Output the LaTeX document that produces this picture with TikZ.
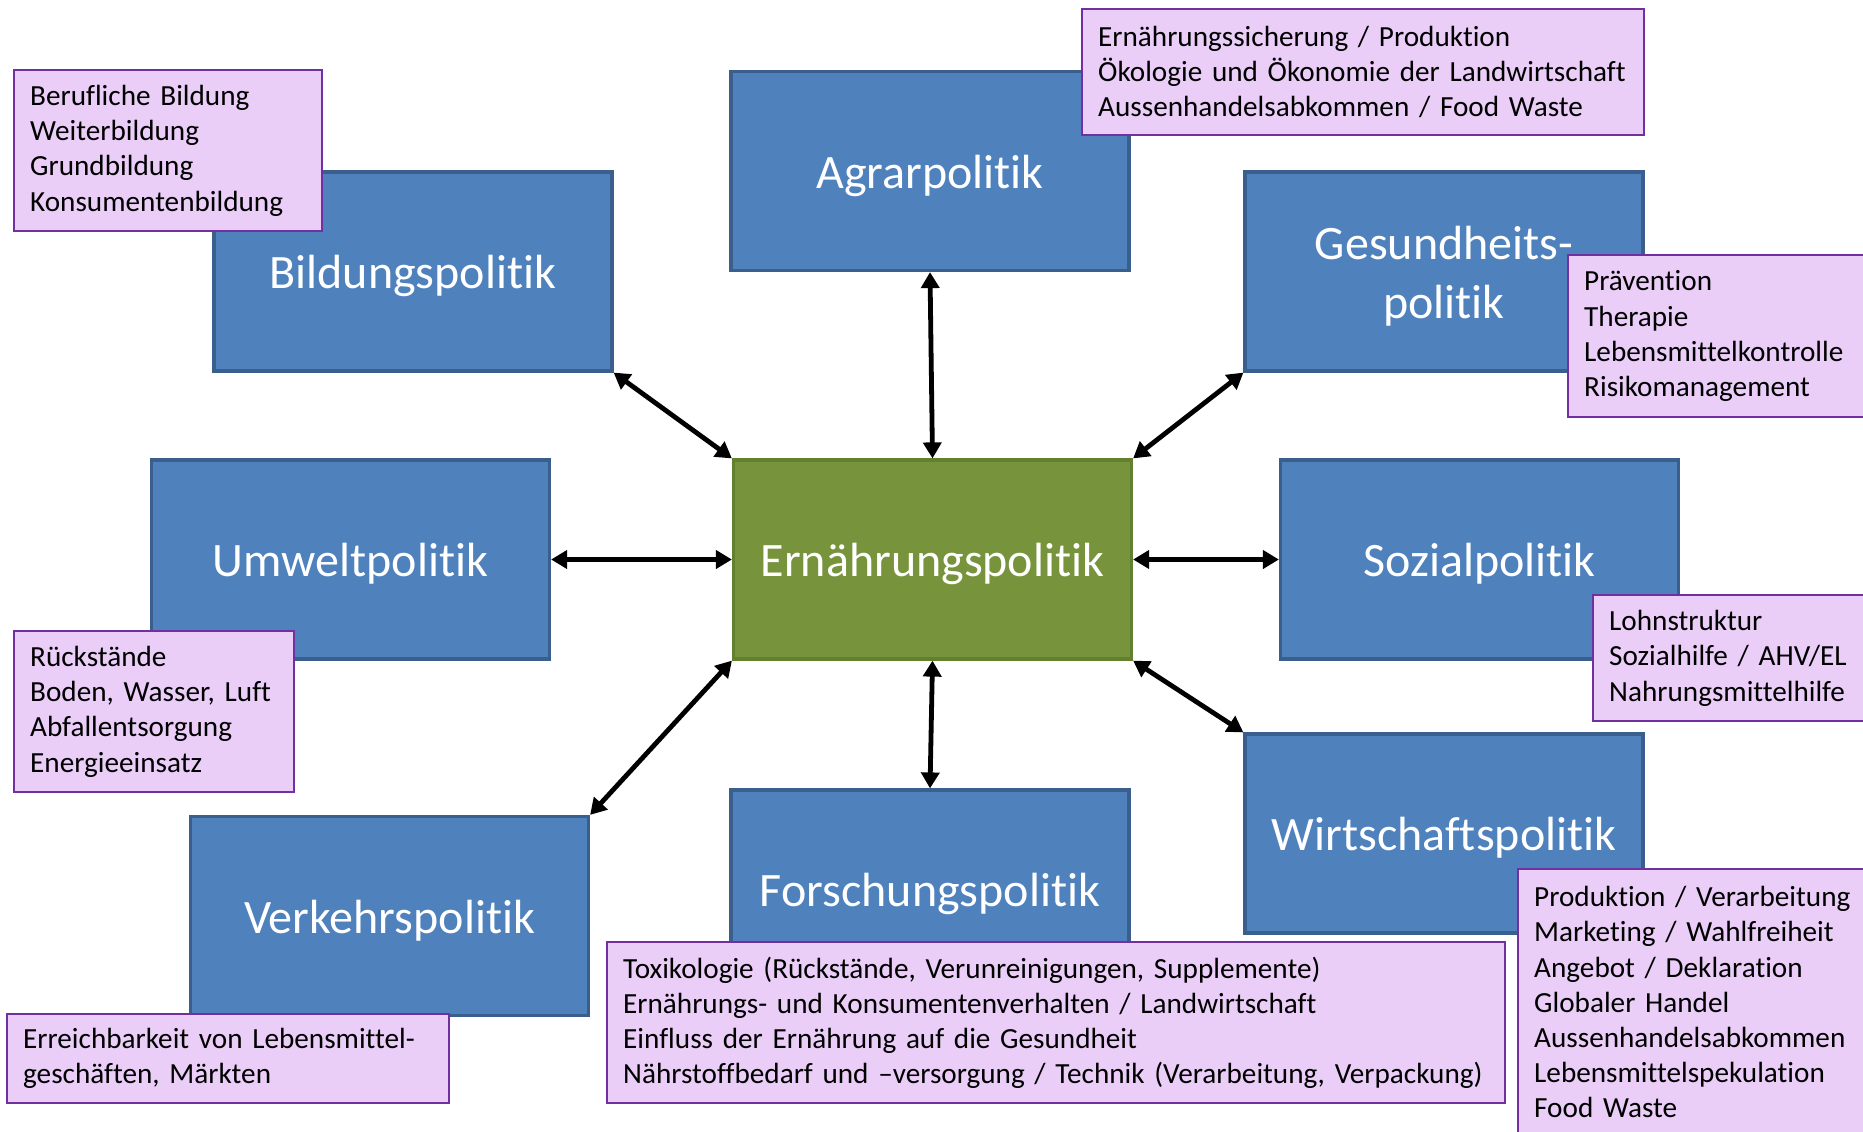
\documentclass[tikz,border=0pt]{standalone}
\usepackage{fontspec}
\setmainfont{Carlito}[RawFeature={-liga;-clig;-calt}]
\usetikzlibrary{arrows.meta,positioning}
\definecolor{polblue}{HTML}{4F81BD}
\definecolor{polborder}{HTML}{3A5F8C}
\definecolor{mitgreen}{HTML}{77933C}
\definecolor{mitborder}{HTML}{62802F}
\definecolor{notepink}{HTML}{EACEF7}
\definecolor{notepurple}{HTML}{7030A0}

\begin{document}
\begin{tikzpicture}[x=0.5pt, y=-0.5pt,
  pol/.style={rectangle, draw=polborder, fill=polblue, line width=1.6pt, minimum width=199pt, minimum height=99.5pt, text=white, align=center, text height=20pt, text depth=3pt, font=\fontsize{24}{29.5}\selectfont},
  mitte/.style={pol, draw=mitborder, fill=mitgreen},
  note/.style={rectangle, draw=notepurple, fill=notepink, line width=1.2pt, anchor=north west, align=left, inner xsep=8pt, inner ysep=0pt, font=\fontsize{14.6}{17.6}\selectfont},
  link/.style={{Triangle[length=8pt,width=9pt]}-{Triangle[length=8pt,width=9pt]}, line width=2.4pt, black}
]
  \useasboundingbox (0,0) rectangle (1863,1131);
  % Politikfelder
  \node[pol] (bildung) at (413, 271.5) {Bildungspolitik};
  \node[pol] (agrar)   at (930, 171)   {Agrarpolitik};
  \node[pol, text height={}, text depth={}] (gesund) at (1444, 271.5) {\rule{0pt}{21pt}Gesundheits-\\politik};
  \node[pol] (umwelt)  at (350.5, 559.5) {Umweltpolitik};
  \node[mitte] (ern)   at (932.5, 559.5) {Ernährungspolitik};
  \node[pol] (sozial)  at (1479.5, 559.5) {Sozialpolitik};
  \node[pol] (verkehr) at (389.5, 916) {Verkehrspolitik};
  \node[pol] (forsch)  at (930, 889.5) {Forschungspolitik};
  \node[pol] (wirt)    at (1444, 833.5) {Wirtschaftspolitik};
  % Verbindungen
  \draw[link] (bildung.south east) -- (ern.north west);
  \draw[link] (agrar.south) -- (ern.north);
  \draw[link] (gesund.south west) -- (ern.north east);
  \draw[link] (umwelt.east) -- (ern.west);
  \draw[link] (ern.east) -- (sozial.west);
  \draw[link] (ern.south west) -- (verkehr.north east);
  \draw[link] (ern.south) -- (forsch.north);
  \draw[link] (ern.south east) -- (wirt.north west);
  % Stichworte
  \node[note, text width=138pt, minimum height=80.5pt] (bildungnote) at (13, 69)
    {Berufliche Bildung\\Weiterbildung\\Grundbildung\\Konsumentenbildung};
  \node[note, text width=265pt, minimum height=63pt] (agrarnote) at (1081, 8)
    {Ernährungssicherung / Produktion\\Ökologie und Ökonomie der Landwirtschaft\\Aussenhandelsabkommen / Food Waste};
  \node[note, text width=138pt, minimum height=81pt] (gesundnote) at (1567, 254)
    {Prävention\\Therapie\\Lebensmittelkontrolle\\Risikomanagement};
  \node[note, text width=124pt, minimum height=80.5pt] (umweltnote) at (13, 630)
    {Rückstände\\Boden, Wasser, Luft\\Abfallentsorgung\\Energieeinsatz};
  \node[note, text width=124pt, minimum height=63pt] (sozialnote) at (1592, 594)
    {Lohnstruktur\\Sozialhilfe / AHV/EL\\Nahrungsmittelhilfe};
  \node[note, text width=205pt, minimum height=44.5pt] (verkehrnote) at (6, 1013)
    {Erreichbarkeit von Lebensmittel-\\geschäften, Märkten};
  \node[note, text width=433pt, minimum height=80.5pt] (forschnote) at (606, 941)
    {Toxikologie (Rückstände, Verunreinigungen, Supplemente)\\Ernährungs- und Konsumentenverhalten / Landwirtschaft\\Einfluss der Ernährung auf die Gesundheit\\Nährstoffbedarf und –versorgung / Technik (Verarbeitung, Verpackung)};
  \node[note, text width=160pt, minimum height=133pt] (wirtnote) at (1517, 868)
    {Produktion / Verarbeitung\\Marketing / Wahlfreiheit\\Angebot / Deklaration\\Globaler Handel\\Aussenhandelsabkommen\\Lebensmittelspekulation\\Food Waste};
\end{tikzpicture}
\end{document}
